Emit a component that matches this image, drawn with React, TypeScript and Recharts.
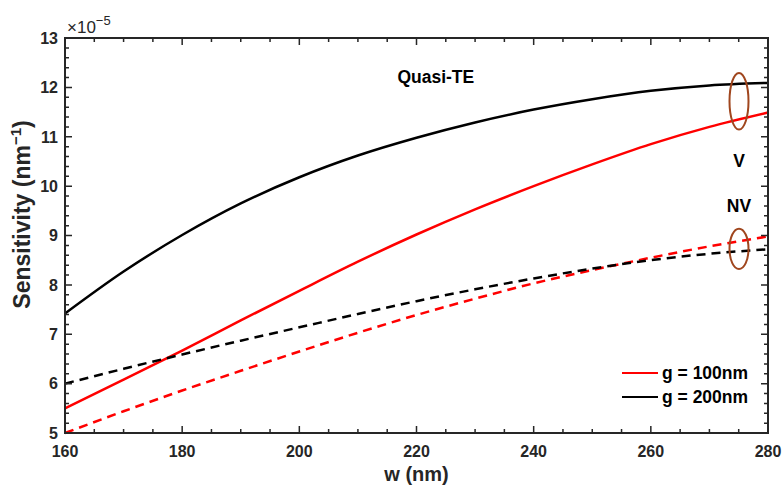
import React from 'react';
import { LineChart, Line, XAxis, YAxis, Legend, ReferenceDot } from 'recharts';

const widths = [160, 170, 180, 190, 200, 210, 220, 230, 240, 250, 260, 270, 280];
const g100Vertical = [5.5, 6.08, 6.67, 7.28, 7.88, 8.47, 9.02, 9.53, 10.0, 10.44, 10.85, 11.2, 11.49];
const g200Vertical = [7.42, 8.27, 9.01, 9.65, 10.18, 10.62, 10.98, 11.29, 11.55, 11.76, 11.93, 12.04, 12.09];
const g100NonVertical = [5.0, 5.44, 5.86, 6.26, 6.65, 7.03, 7.39, 7.72, 8.03, 8.3, 8.55, 8.78, 8.98];
const g200NonVertical = [6.0, 6.3, 6.59, 6.87, 7.14, 7.41, 7.67, 7.91, 8.13, 8.33, 8.5, 8.63, 8.72];

const xDomain = [160, 280];
const yDomain = [5, 13];
const xMajorTicks = [160, 180, 200, 220, 240, 260, 280];
const xAllTicks = [160, 165, 170, 175, 180, 185, 190, 195, 200, 205, 210, 215, 220, 225, 230, 235, 240, 245, 250, 255, 260, 265, 270, 275, 280];
const yMajorTicks = [5, 6, 7, 8, 9, 10, 11, 12, 13];
const yAllTicks = [
  5, 5.2, 5.4, 5.6, 5.8, 6, 6.2, 6.4, 6.6, 6.8, 7, 7.2, 7.4, 7.6, 7.8, 8, 8.2, 8.4, 8.6, 8.8,
  9, 9.2, 9.4, 9.6, 9.8, 10, 10.2, 10.4, 10.6, 10.8, 11, 11.2, 11.4, 11.6, 11.8, 12, 12.2, 12.4, 12.6, 12.8, 13,
];

const seriesNames = ['g = 100nm', 'g = 200nm'];
const annotations = [
  { w: 223.3, v: 12.22, text: 'Quasi-TE' },
  { w: 275.05, v: 10.52, text: 'V' },
  { w: 275.05, v: 9.61, text: 'NV' },
];
const ellipses = [
  { w: 275.05, v: 11.72, rx: 9.5, ry: 28.3 },
  { w: 275.05, v: 8.73, rx: 9.5, ry: 20.2 },
];

const data = widths.map((w, i) => ({
  w,
  rv: g100Vertical[i],
  bv: g200Vertical[i],
  rn: g100NonVertical[i],
  bn: g200NonVertical[i],
}));

// layout
const CHART_W = 783;
const CHART_H = 486;
const MARGIN = { top: 38, right: 15, bottom: 0, left: 0 };
const Y_AXIS_W = 65;
const X_AXIS_H = 53;
const PLOT_W = CHART_W - MARGIN.left - MARGIN.right - Y_AXIS_W;
const PLOT_H = CHART_H - MARGIN.top - MARGIN.bottom - X_AXIS_H;

const FONT = "'Liberation Sans', Arial, Helvetica, sans-serif";
const TEXT = '#262626';
const FRAME = '#262626';
const MAJOR = 7;
const MINOR = 4;

const BottomTick = (props: any) => {
  const { x, y, payload } = props;
  return (
    <text x={x} y={y + 11.5} textAnchor="middle" fontFamily={FONT} fontWeight="bold" fontSize={16} fill={TEXT}>
      {payload.value}
    </text>
  );
};

const LeftTick = (props: any) => {
  const { x, y, payload } = props;
  return (
    <text x={x} y={y + 5.8} textAnchor="end" fontFamily={FONT} fontWeight="bold" fontSize={16} fill={TEXT}>
      {payload.value}
    </text>
  );
};

const XLabel = (props: any) => {
  const vb = props.viewBox;
  return (
    <text x={vb.x + vb.width / 2} y={vb.y + 48} textAnchor="middle" fontFamily={FONT} fontWeight="bold" fontSize={20} fill={TEXT}>
      w (nm)
    </text>
  );
};

const YLabel = (props: any) => {
  const vb = props.viewBox;
  const cx = vb.x + 30;
  const cy = vb.y + vb.height / 2 - 21;
  return (
    <text
      x={cx}
      y={cy}
      transform={`rotate(-90, ${cx}, ${cy})`}
      textAnchor="middle"
      fontFamily={FONT}
      fontWeight="bold"
      fontSize={23}
      fill={TEXT}
    >
      <tspan>Sensitivity (nm</tspan>
      <tspan dy={-9} fontSize={15}>−1</tspan>
      <tspan dy={9}>)</tspan>
    </text>
  );
};

const LegendContent = (props: any) => {
  const payload = (props.payload || []).filter((e: any) => e.type !== 'none');
  return (
    <div style={{ fontFamily: FONT, fontWeight: 'bold', fontSize: 17.5, color: '#000' }}>
      {payload.map((e: any) => (
        <div key={e.value} style={{ display: 'flex', alignItems: 'center', height: 24 }}>
          <div style={{ width: 36, height: 0, borderTop: `2.5px solid ${e.color}`, marginRight: 4 }} />
          <span>{e.value}</span>
        </div>
      ))}
    </div>
  );
};

// x tick anchored at the bottom edge: draws the bottom tick and the matching top tick
const xTickShape = (len: number) => (p: any) => {
  const { cx, cy } = p;
  const top = cy - PLOT_H;
  return (
    <path d={`M${cx},${cy}V${cy - len}M${cx},${top}V${top + len}`} stroke={FRAME} strokeWidth={1.5} fill="none" />
  );
};

// y tick anchored at the left edge: draws the left tick and the matching right tick
const yTickShape = (len: number) => (p: any) => {
  const { cx, cy } = p;
  const right = cx + PLOT_W;
  return (
    <path d={`M${cx},${cy}H${cx + len}M${right},${cy}H${right - len}`} stroke={FRAME} strokeWidth={1.5} fill="none" />
  );
};

// frame anchored at the top-left corner of the plot
const frameShape = (p: any) => (
  <rect x={p.cx} y={p.cy} width={PLOT_W} height={PLOT_H} fill="none" stroke={FRAME} strokeWidth={2} />
);

export default function App() {
  return (
    <div style={{ position: 'absolute', left: 0, top: 0, width: CHART_W, height: CHART_H }}>
      <LineChart width={CHART_W} height={CHART_H} data={data} margin={MARGIN}>
        <XAxis
          dataKey="w"
          xAxisId="x"
          type="number"
          domain={xDomain}
          ticks={xMajorTicks}
          interval={0}
          height={X_AXIS_H}
          tickSize={0}
          tickMargin={12}
          tickLine={false}
          tick={<BottomTick />}
          axisLine={false}
          label={<XLabel />}
        />
        <YAxis
          yAxisId="y"
          type="number"
          domain={yDomain}
          ticks={yMajorTicks}
          interval={0}
          width={Y_AXIS_W}
          tickSize={0}
          tickMargin={7}
          tickLine={false}
          tick={<LeftTick />}
          axisLine={false}
          label={<YLabel />}
        />
        <Line xAxisId="x" yAxisId="y" type="monotone" dataKey="rv" name={seriesNames[0]} stroke="#ff0000" strokeWidth={2.5} dot={false} isAnimationActive={false} />
        <Line xAxisId="x" yAxisId="y" type="monotone" dataKey="bv" name={seriesNames[1]} stroke="#000000" strokeWidth={2.5} dot={false} isAnimationActive={false} />
        <Line xAxisId="x" yAxisId="y" type="monotone" dataKey="rn" stroke="#ff0000" strokeWidth={2.5} strokeDasharray="9 6" dot={false} legendType="none" isAnimationActive={false} />
        <Line xAxisId="x" yAxisId="y" type="monotone" dataKey="bn" stroke="#000000" strokeWidth={2.5} strokeDasharray="9 6" dot={false} legendType="none" isAnimationActive={false} />
        {xAllTicks.map((v) => (
          <ReferenceDot
            key={'xt' + v}
            xAxisId="x"
            yAxisId="y"
            x={v}
            y={yDomain[0]}
            ifOverflow="visible"
            shape={xTickShape(xMajorTicks.includes(v) ? MAJOR : MINOR)}
          />
        ))}
        {yAllTicks.map((v) => (
          <ReferenceDot
            key={'yt' + v}
            xAxisId="x"
            yAxisId="y"
            x={xDomain[0]}
            y={v}
            ifOverflow="visible"
            shape={yTickShape(yMajorTicks.includes(v) ? MAJOR : MINOR)}
          />
        ))}
        <ReferenceDot xAxisId="x" yAxisId="y" x={xDomain[0]} y={yDomain[1]} ifOverflow="visible" shape={frameShape} />
        {ellipses.map((e, i) => (
          <ReferenceDot
            key={'e' + i}
            xAxisId="x"
            yAxisId="y"
            x={e.w}
            y={e.v}
            ifOverflow="visible"
            shape={(p: any) => <ellipse cx={p.cx} cy={p.cy} rx={e.rx} ry={e.ry} fill="none" stroke="#a0461e" strokeWidth={2} />}
          />
        ))}
        {annotations.map((a, i) => (
          <ReferenceDot
            key={'a' + i}
            xAxisId="x"
            yAxisId="y"
            x={a.w}
            y={a.v}
            ifOverflow="visible"
            shape={(p: any) => (
              <text x={p.cx} y={p.cy + 6.2} textAnchor="middle" fontFamily={FONT} fontWeight="bold" fontSize={17.5} fill="#000">
                {a.text}
              </text>
            )}
          />
        ))}
        <ReferenceDot
          xAxisId="x"
          yAxisId="y"
          x={xDomain[0]}
          y={yDomain[1]}
          ifOverflow="visible"
          shape={(p: any) => (
            <text x={p.cx + 2} y={p.cy - 5} fontFamily={FONT} fontSize={17} fill={TEXT}>
              <tspan>×10</tspan>
              <tspan dy={-8} fontSize={13}>−5</tspan>
            </text>
          )}
        />
        <Legend
          layout="vertical"
          align="center"
          verticalAlign="middle"
          content={<LegendContent />}
          wrapperStyle={{ position: 'absolute', left: 622, top: 361, width: 160, height: 50 }}
        />
      </LineChart>
    </div>
  );
}
